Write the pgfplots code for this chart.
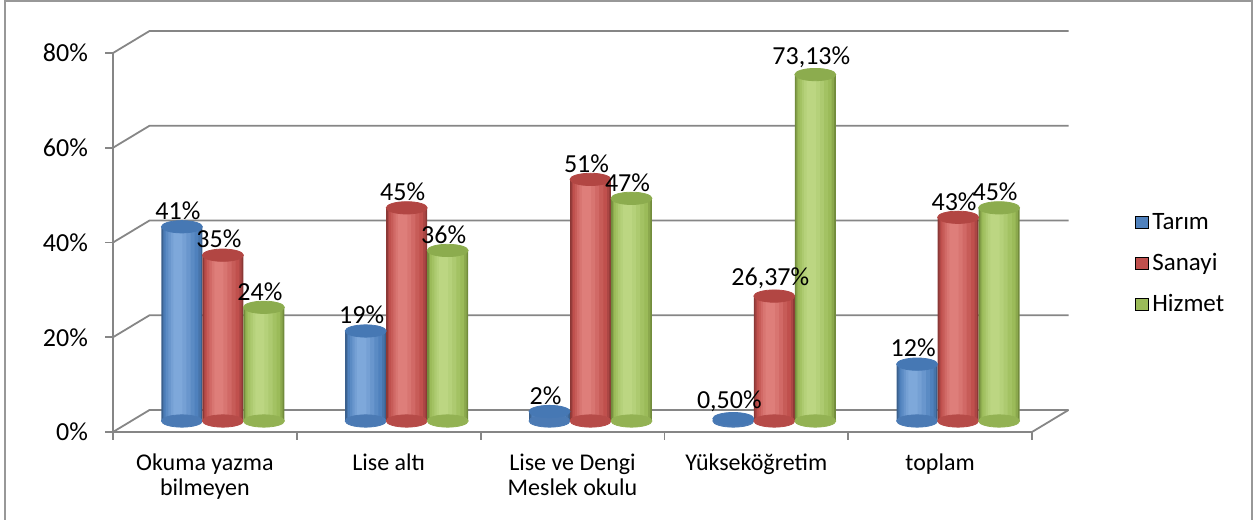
\documentclass[border=0pt]{standalone}
\usepackage{fontspec}
\setmainfont{Carlito}
\usepackage{pgfplots}
\pgfplotsset{compat=1.18}
\usepackage{pgfplotstable}
\definecolor{bEdge}{RGB}{58,96,142}
\definecolor{bBase}{RGB}{79,129,189}
\definecolor{bHi}{RGB}{126,168,218}
\definecolor{bTop}{RGB}{70,120,180}
\definecolor{rEdge}{RGB}{140,56,54}
\definecolor{rBase}{RGB}{192,80,77}
\definecolor{rHi}{RGB}{222,126,122}
\definecolor{rTop}{RGB}{178,70,67}
\definecolor{gEdge}{RGB}{114,140,60}
\definecolor{gBase}{RGB}{155,187,89}
\definecolor{gHi}{RGB}{188,214,130}
\definecolor{gTop}{RGB}{140,172,78}
\definecolor{gridc}{RGB}{134,134,134}

\pgfplotstableread{
x y lab
0 41 41
1 19 19
2 2 2
3 0.5 0,50
4 12 12
}\tarim
\pgfplotstableread{
x y lab
0 35 35
1 45 45
2 51 51
3 26.37 26,37
4 43 43
}\sanayi
\pgfplotstableread{
x y lab
0 24 24
1 36 36
2 47 47
3 73.13 73,13
4 45 45
}\hizmet

% one layer of a cylinder body: table, offset, width, extra shift, colour
\newcommand{\layer}[5]{%
 \addplot[forget plot, ybar, bar width=#3, bar shift=0pt, fill=#5, draw=none] table[x expr=\thisrow{x}#2#4, y=y] {#1};
}
\newcommand{\cyl}[3]{%
 \addplot[forget plot, only marks, mark=*, mark size=10.25pt, color=#3Base!80!#3Edge, mark options={yscale=0.3}] table[x expr=\thisrow{x}#2, y expr=0] {#1};
 \layer{#1}{#2}{0.223}{+0}{#3Edge}
 \layer{#1}{#2}{0.205}{+0}{#3Base!60!#3Edge}
 \layer{#1}{#2}{0.185}{-0.003}{#3Base}
 \layer{#1}{#2}{0.155}{-0.008}{#3Base!75!#3Hi}
 \layer{#1}{#2}{0.12}{-0.013}{#3Base!45!#3Hi}
 \layer{#1}{#2}{0.085}{-0.018}{#3Base!20!#3Hi}
 \layer{#1}{#2}{0.05}{-0.022}{#3Hi}
 \addplot[forget plot, only marks, mark=*, mark size=10.25pt, color=#3Top, mark options={yscale=0.3},
   point meta=explicit symbolic, nodes near coords={\pgfplotspointmeta\%},
   nodes near coords style={font=\fontsize{13}{15}\selectfont, text=black, anchor=south, yshift=0pt, xshift=-2pt}]
   table[x expr=\thisrow{x}#2, y=y, meta=lab] {#1};
}

\begin{document}
\begin{tikzpicture}
\useasboundingbox (0,0) rectangle (628.5pt,259.5pt);
\draw[gridc!85, line width=1pt] (2.6pt,-3pt) -- (2.6pt,258.8pt) -- (625.9pt,258.8pt) -- (625.9pt,-3pt);
\begin{axis}[
  at={(65.5pt,49pt)}, anchor=south west,
  scale only axis, width=459.5pt, height=189.5pt,
  xmin=-0.5, xmax=4.5, ymin=0, ymax=80,
  clip=false,
  axis line style={draw=none}, major tick length=0pt,
  xtick={0,1,2,3,4},
  xticklabels={{Okuma yazma\\bilmeyen},{Lise altı},{Lise ve Dengi\\Meslek okulu},{Yükseköğretim},{toplam}},
  xticklabel style={align=center, font=\fontsize{12}{12.5}\selectfont, xshift=-9pt, yshift=-13pt},
  ytick={0,20,40,60,80},
  yticklabels={0\%,20\%,40\%,60\%,80\%},
  yticklabel style={font=\fontsize{13}{15}\selectfont, xshift=-18pt, yshift=-5.5pt},
  legend style={at={(1.085,0.415)}, anchor=west, draw=none, fill=none, font=\fontsize{12.5}{14}\selectfont, row sep=6.5pt, cells={anchor=west}},
  legend image code/.code={\fill[#1] (0pt,-3pt) rectangle (6.5pt,3pt);},
]
\draw[gridc, line width=0.9pt] ([shift={(-9pt,-5.5pt)}]axis cs:-0.5,0) -- ([shift={(9.25pt,5.5pt)}]axis cs:-0.5,0) -- ([shift={(9.25pt,5.5pt)}]axis cs:4.5,0);
\draw[gridc, line width=0.9pt] ([shift={(-9pt,-5.5pt)}]axis cs:-0.5,20) -- ([shift={(9.25pt,5.5pt)}]axis cs:-0.5,20) -- ([shift={(9.25pt,5.5pt)}]axis cs:4.5,20);
\draw[gridc, line width=0.9pt] ([shift={(-9pt,-5.5pt)}]axis cs:-0.5,40) -- ([shift={(9.25pt,5.5pt)}]axis cs:-0.5,40) -- ([shift={(9.25pt,5.5pt)}]axis cs:4.5,40);
\draw[gridc, line width=0.9pt] ([shift={(-9pt,-5.5pt)}]axis cs:-0.5,60) -- ([shift={(9.25pt,5.5pt)}]axis cs:-0.5,60) -- ([shift={(9.25pt,5.5pt)}]axis cs:4.5,60);
\draw[gridc, line width=0.9pt] ([shift={(-9pt,-5.5pt)}]axis cs:-0.5,80) -- ([shift={(9.25pt,5.5pt)}]axis cs:-0.5,80) -- ([shift={(9.25pt,5.5pt)}]axis cs:4.5,80);
\draw[gridc, line width=0.9pt] ([shift={(-9pt,-5.5pt)}]axis cs:-0.5,80) -- ([shift={(-9pt,-5.5pt)}]axis cs:-0.5,0) -- ([shift={(-9pt,-5.5pt)}]axis cs:4.5,0) -- ([shift={(9.25pt,5.5pt)}]axis cs:4.5,0);
% front ticks
\draw[gridc, line width=0.9pt] ([shift={(-9pt,-5.5pt)}]axis cs:-0.5,0) -- ([shift={(-12.8pt,-5.5pt)}]axis cs:-0.5,0);
\draw[gridc, line width=0.9pt] ([shift={(-9pt,-5.5pt)}]axis cs:-0.5,20) -- ([shift={(-12.8pt,-5.5pt)}]axis cs:-0.5,20);
\draw[gridc, line width=0.9pt] ([shift={(-9pt,-5.5pt)}]axis cs:-0.5,40) -- ([shift={(-12.8pt,-5.5pt)}]axis cs:-0.5,40);
\draw[gridc, line width=0.9pt] ([shift={(-9pt,-5.5pt)}]axis cs:-0.5,60) -- ([shift={(-12.8pt,-5.5pt)}]axis cs:-0.5,60);
\draw[gridc, line width=0.9pt] ([shift={(-9pt,-5.5pt)}]axis cs:-0.5,80) -- ([shift={(-12.8pt,-5.5pt)}]axis cs:-0.5,80);
\draw[gridc, line width=0.9pt] ([shift={(-9pt,-5.5pt)}]axis cs:-0.5,0) -- ([shift={(-9pt,-9.5pt)}]axis cs:-0.5,0);
\draw[gridc, line width=0.9pt] ([shift={(-9pt,-5.5pt)}]axis cs:0.5,0) -- ([shift={(-9pt,-9.5pt)}]axis cs:0.5,0);
\draw[gridc, line width=0.9pt] ([shift={(-9pt,-5.5pt)}]axis cs:1.5,0) -- ([shift={(-9pt,-9.5pt)}]axis cs:1.5,0);
\draw[gridc, line width=0.9pt] ([shift={(-9pt,-5.5pt)}]axis cs:2.5,0) -- ([shift={(-9pt,-9.5pt)}]axis cs:2.5,0);
\draw[gridc, line width=0.9pt] ([shift={(-9pt,-5.5pt)}]axis cs:3.5,0) -- ([shift={(-9pt,-9.5pt)}]axis cs:3.5,0);
\draw[gridc, line width=0.9pt] ([shift={(-9pt,-5.5pt)}]axis cs:4.5,0) -- ([shift={(-9pt,-9.5pt)}]axis cs:4.5,0);
\cyl{\tarim}{-0.223}{b}
\cyl{\sanayi}{+0}{r}
\cyl{\hizmet}{+0.223}{g}
\addlegendimage{fill=bBase}
\addlegendentry{Tarım}
\addlegendimage{fill=rBase}
\addlegendentry{Sanayi}
\addlegendimage{fill=gBase}
\addlegendentry{Hizmet}
\end{axis}
\end{tikzpicture}
\end{document}
